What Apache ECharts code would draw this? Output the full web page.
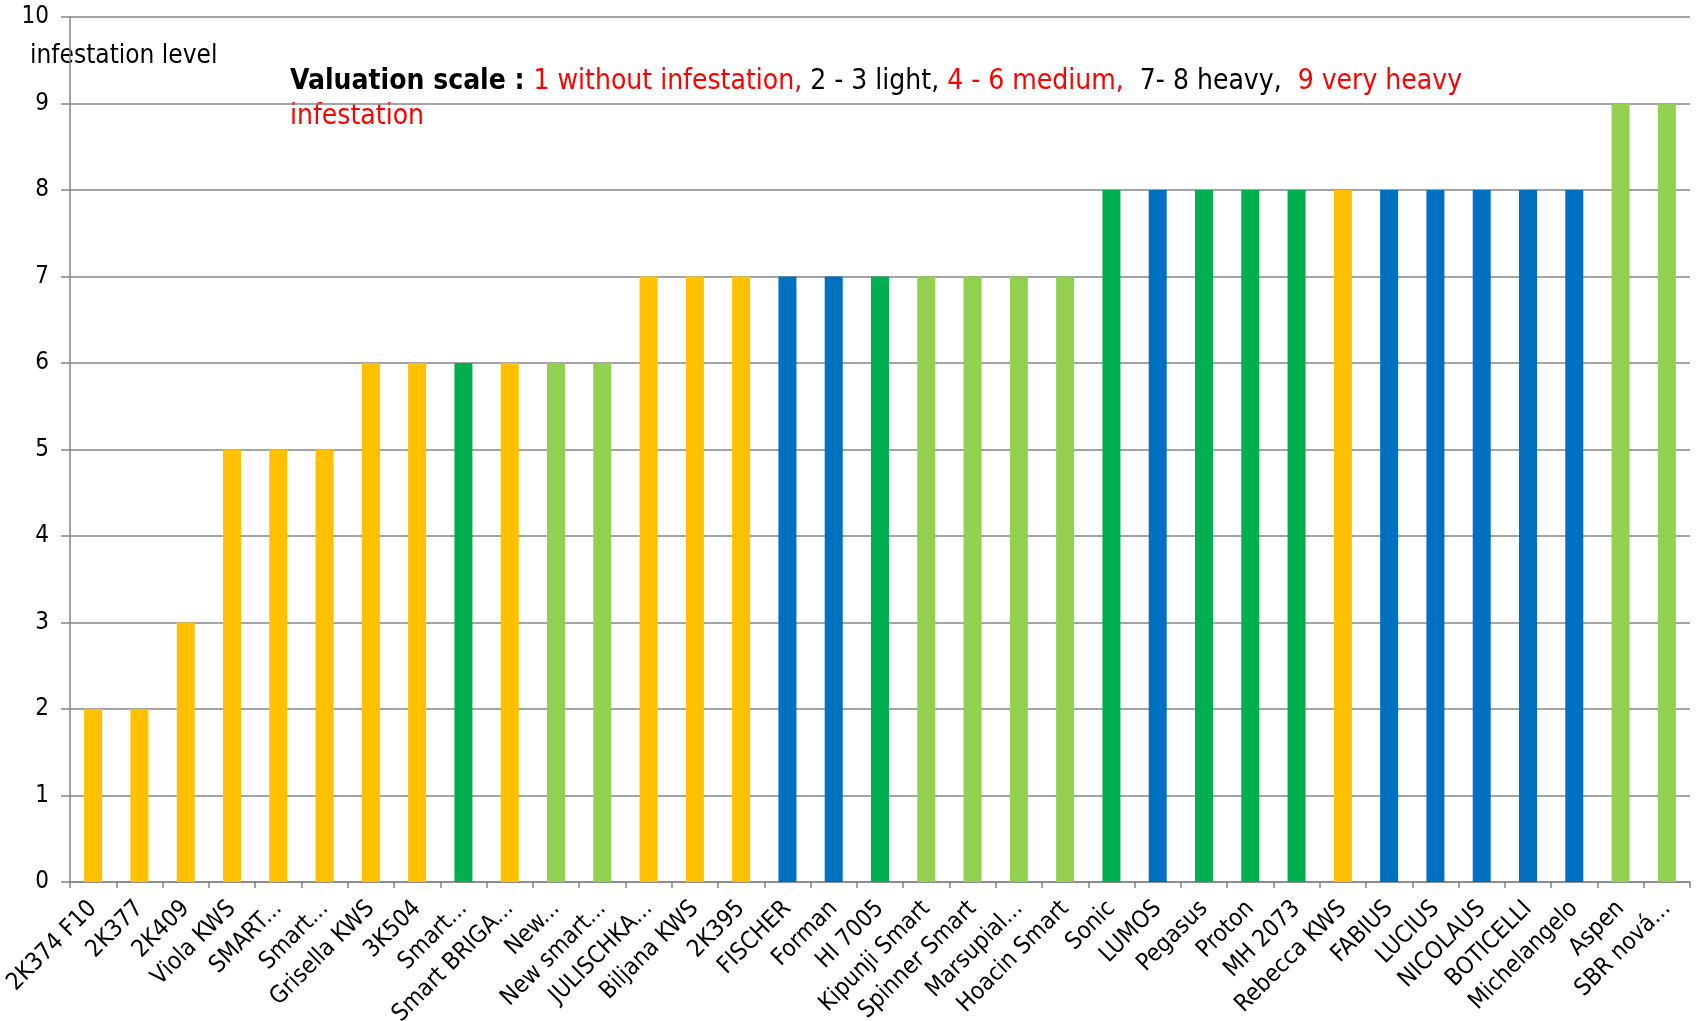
<!DOCTYPE html>
<html>
<head>
<meta charset="utf-8">
<script src="https://cdn.jsdelivr.net/npm/echarts@6/dist/echarts.min.js"></script>
<style>
  html, body { margin: 0; padding: 0; background: #fff; }
  #chart-container { width: 1698px; height: 1021px; }
</style>
</head>
<body>
<div id="chart-container"></div>
<script>
const varieties = [
  '2K374 F10', '2K377', '2K409', 'Viola KWS', 'SMART...', 'Smart...', 'Grisella KWS',
  '3K504', 'Smart...', 'Smart BRIGA...', 'New...', 'New smart...', 'JULISCHKA...',
  'Biljana KWS', '2K395', 'FISCHER', 'Forman', 'HI 7005', 'Kipunji Smart',
  'Spinner Smart', 'Marsupial...', 'Hoacin Smart', 'Sonic', 'LUMOS', 'Pegasus',
  'Proton', 'MH 2073', 'Rebecca KWS', 'FABIUS', 'LUCIUS', 'NICOLAUS', 'BOTICELLI',
  'Michelangelo', 'Aspen', 'SBR nová...'
];
const infestation = [
  2, 2, 3, 5, 5, 5, 6, 6, 6, 6, 6, 6, 7, 7, 7, 7, 7, 7, 7, 7, 7, 7,
  8, 8, 8, 8, 8, 8, 8, 8, 8, 8, 8, 9, 9
];
// colour group of each bar
const groups = [
  'o', 'o', 'o', 'o', 'o', 'o', 'o', 'o', 'g', 'o', 'l', 'l', 'o', 'o', 'o', 'b', 'b', 'g',
  'l', 'l', 'l', 'l', 'g', 'b', 'g', 'g', 'g', 'o', 'b', 'b', 'b', 'b', 'b', 'l', 'l'
];
const groupColors = { o: '#FFC000', g: '#00B050', l: '#92D050', b: '#0070C0' };

const font = '"DejaVu Sans Condensed", "Liberation Sans Narrow", "Liberation Sans", sans-serif';

let option = {
  animation: false,
  backgroundColor: '#fff',
  textStyle: { fontFamily: font },
  grid: { left: 70, right: 8, top: 17, bottom: 139, containLabel: false, outerBoundsMode: 'none' },
  xAxis: {
    type: 'category',
    data: varieties,
    axisLine: { lineStyle: { color: '#868686', width: 1.5 } },
    axisTick: { show: true, length: 6, lineStyle: { color: '#868686', width: 1.5 } },
    axisLabel: {
      rotate: 45,
      interval: 0,
      color: '#000',
      fontSize: 24,
      margin: 23,
      fontFamily: font
    }
  },
  yAxis: {
    type: 'value',
    min: 0,
    max: 10,
    interval: 1,
    axisLine: { show: true, lineStyle: { color: '#868686', width: 1.5 } },
    axisTick: { show: true, length: 9, lineStyle: { color: '#868686', width: 1.5 } },
    axisLabel: { color: '#000', fontSize: 24, margin: 21, fontFamily: font },
    splitLine: { lineStyle: { color: '#868686', width: 1.5 } }
  },
  graphic: [
    {
      type: 'text',
      left: 30,
      top: 43,
      style: { text: 'infestation level', fill: '#000', font: '26px ' + font }
    },
    {
      type: 'text',
      left: 290,
      top: 68,
      style: {
        text: '{b|Valuation scale : }{r|1 without infestation, }{k|2 - 3 light, }{r|4 - 6 medium,  }{k|7- 8 heavy,  }{r|9 very heavy}\n{r|infestation}',
        rich: {
          b: { fontSize: 28, fontWeight: 'bold', fill: '#000', fontFamily: font, lineHeight: 35 },
          r: { fontSize: 28, fill: '#FF0000', fontFamily: font, lineHeight: 35 },
          k: { fontSize: 28, fill: '#000', fontFamily: font, lineHeight: 35 }
        }
      }
    }
  ],
  series: [
    {
      type: 'bar',
      barWidth: 18,
      data: infestation.map((v, i) => ({
        value: v,
        itemStyle: { color: groupColors[groups[i]] }
      }))
    }
  ]
};

var myChart = echarts.init(document.getElementById('chart-container'));
myChart.setOption(option);
window.addEventListener('resize', myChart.resize);
</script>
</body>
</html>
